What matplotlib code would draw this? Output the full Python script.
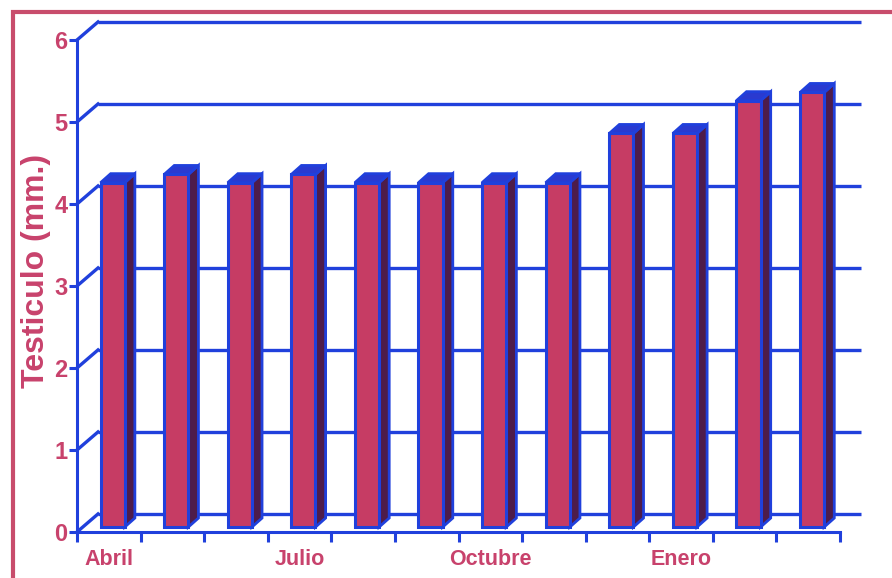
import matplotlib
matplotlib.use("Agg")
import matplotlib.pyplot as plt
from matplotlib.patches import Polygon, Rectangle
import numpy as np

# ---- data ----
values = [4.2, 4.3, 4.2, 4.3, 4.2, 4.2, 4.2, 4.2, 4.8, 4.8, 5.2, 5.3]
month_labels = ["Abril", "Julio", "Octubre", "Enero"]
label_positions = [0, 3, 6, 9]
y_ticks = [0, 1, 2, 3, 4, 5, 6]
y_label = "Testiculo (mm.)"

# ---- style ----
BLUE = "#2040dc"
CRIMSON = "#c8426c"
FRAME = "#c84d6c"
FRONT = "#c63c64"
SIDE = "#4e1c4a"
TOP = "#2a3ad0"
FONT = ["Liberation Sans", "DejaVu Sans"]

W, H = 892, 578
fig = plt.figure(figsize=(W / 100, H / 100), dpi=100)
ax = fig.add_axes([77 / W, 1 - 532 / H, 763 / W, 492 / H])
n = len(values)
ax.set_xlim(0, n)
ax.set_ylim(0, 6)

# depth offsets in data units
BDX, BDY = 0.33, 0.22          # back wall
FDX, FDY = 0.06, 0.06          # bar front face
DDX, DDY = 0.16, 0.11          # bar depth
BW = 0.38                      # bar width

# back wall gridlines + left diagonals
for y in y_ticks:
    ax.plot([BDX, n + BDX], [y + BDY, y + BDY], color=BLUE, lw=2.4,
            clip_on=False, zorder=1, solid_capstyle="butt")
    ax.plot([0, BDX], [y, y + BDY], color=BLUE, lw=2.4, clip_on=False, zorder=1)

# bars
x = np.arange(n) + 0.5
for i, v in enumerate(values):
    xl = x[i] + FDX - BW / 2
    xr = xl + BW
    y0 = FDY
    y1 = v + FDY
    side = Polygon([(xr, y0), (xr, y1), (xr + DDX, y1 + DDY), (xr + DDX, y0 + DDY)],
                   closed=True, fc=SIDE, ec=BLUE, lw=2.0, zorder=3 + i, clip_on=False)
    top = Polygon([(xl, y1), (xr, y1), (xr + DDX, y1 + DDY), (xl + DDX, y1 + DDY)],
                  closed=True, fc=TOP, ec=BLUE, lw=2.0, zorder=3 + i, clip_on=False)
    ax.add_patch(side)
    ax.add_patch(top)
    ax.bar(x[i] + FDX, v, bottom=y0, width=BW, color=FRONT, edgecolor=BLUE,
           linewidth=2.2, zorder=3.5 + i)

# spines
for s in ["top", "right"]:
    ax.spines[s].set_visible(False)
for s in ["left", "bottom"]:
    ax.spines[s].set_color(BLUE)
    ax.spines[s].set_linewidth(2.2)
    ax.spines[s].set_zorder(30)

ax.set_yticks(y_ticks)
ax.set_yticklabels([str(t) for t in y_ticks])
ax.tick_params(axis="y", colors=BLUE, length=6, width=2.2, pad=1,
               labelcolor=CRIMSON, labelsize=17)
ax.set_xticks(np.arange(n + 1))
ax.set_xticklabels([])
ax.tick_params(axis="x", which="major", colors=BLUE, length=7, width=2.2, direction="out")
ax.set_xticks(np.array(label_positions) + 0.5, minor=True)
ax.set_xticklabels(month_labels, minor=True)
ax.tick_params(axis="x", which="minor", length=0, pad=12, labelcolor=CRIMSON, labelsize=15.5)
for lab in ax.get_yticklabels() + ax.get_xticklabels(minor=True):
    lab.set_fontweight("bold")
    lab.set_family(FONT)

ax.patch.set_visible(False)

fig.text(36 / W, 1 - 271 / H, y_label, rotation=90, ha="center", va="center",
         color=CRIMSON, fontsize=23, fontweight="bold", family=FONT)

# outer crimson frame
fig.patches.append(Rectangle((12.5 / W, -0.1), 1.2, 1 - 12.5 / H + 0.1,
                             transform=fig.transFigure, fill=False, ec=FRAME, lw=3,
                             figure=fig))

fig.savefig("out.png", dpi=100)
